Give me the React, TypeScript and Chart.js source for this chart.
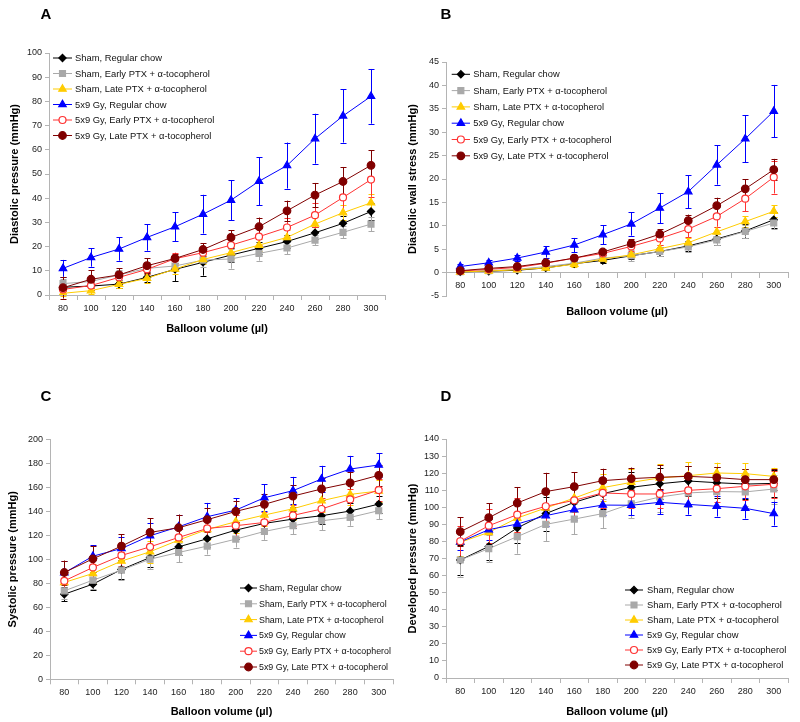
import React, { useEffect, useRef } from 'react';
import { Chart, registerables } from 'chart.js';
import { drawPoint } from 'chart.js/helpers';

Chart.register(...registerables);

// ---------- categories ----------
const balloonVolumes = ['80', '100', '120', '140', '160', '180', '200', '220', '240', '260', '280', '300'];

// ---------- series ----------
const seriesLabels = [
  'Sham, Regular chow',
  'Sham, Early PTX + α-tocopherol',
  'Sham, Late PTX + α-tocopherol',
  '5x9 Gy, Regular chow',
  '5x9 Gy, Early PTX + α-tocopherol',
  '5x9 Gy, Late PTX + α-tocopherol',
];

// ---------- Panel A: diastolic pressure ----------
const diaShamChow = [3.2, 3.7, 4.5, 7.3, 10.6, 13.5, 16.5, 19.3, 22.1, 25.7, 29.6, 34.5];
const diaShamEarly = [4.7, 5.6, 8.3, 11.0, 12.0, 14.4, 14.9, 17.2, 19.4, 22.7, 25.9, 29.3];
const diaShamLate = [0.7, 1.8, 4.4, 6.9, 10.7, 14.7, 17.5, 20.6, 23.8, 29.3, 34.0, 38.1];
const diaGyChow = [11.0, 15.5, 19.0, 23.8, 28.2, 33.4, 39.2, 47.0, 53.5, 64.6, 74.0, 82.1];
const diaGyEarly = [2.3, 3.9, 7.3, 10.6, 15.0, 17.5, 20.6, 24.1, 27.9, 33.0, 40.3, 47.7];
const diaGyLate = [3.0, 6.5, 8.3, 12.1, 15.1, 18.8, 23.8, 28.2, 34.8, 41.3, 46.9, 53.6];

const diaShamChowErr = [1.5, 1.5, 1.5, 2.0, 4.8, 5.5, 3.0, 2.5, 2.5, 2.5, 3.0, 3.5];
const diaShamEarlyErr = [2.0, 1.5, 2.0, 2.5, 2.0, 3.0, 4.0, 3.0, 2.5, 2.0, 2.5, 3.0];
const diaShamLateErr = [1.0, 1.5, 1.5, 2.0, 2.0, 2.0, 2.5, 2.5, 3.0, 3.0, 3.0, 3.5];
const diaGyChowErr = [3.5, 3.8, 4.8, 5.5, 6.0, 8.0, 8.3, 10.0, 9.5, 10.3, 11.0, 11.3];
const diaGyEarlyErr = [1.5, 2.0, 2.0, 2.0, 2.5, 2.5, 3.0, 3.5, 4.0, 5.0, 6.5, 7.0];
const diaGyLateErr = [4.5, 3.8, 2.8, 3.0, 2.0, 2.5, 3.0, 3.8, 4.2, 5.0, 6.0, 6.2];

// ---------- Panel B: diastolic wall stress ----------
const wallShamChow = [0.15, 0.3, 0.5, 1.0, 1.9, 2.6, 3.6, 4.5, 5.7, 7.2, 8.9, 11.3];
const wallShamEarly = [0.2, 0.4, 0.7, 1.3, 2.0, 3.1, 3.6, 4.5, 5.5, 7.0, 8.8, 10.6];
const wallShamLate = [0.15, 0.35, 0.6, 1.0, 1.8, 2.9, 3.8, 5.1, 6.4, 8.7, 10.9, 13.1];
const wallGyChow = [1.3, 2.1, 3.1, 4.4, 5.9, 8.1, 10.4, 13.8, 17.3, 23.0, 28.6, 34.5];
const wallGyEarly = [0.35, 0.7, 1.1, 2.0, 3.1, 4.1, 5.6, 7.3, 9.3, 12.0, 15.8, 20.4];
const wallGyLate = [0.4, 0.9, 1.3, 2.1, 3.1, 4.4, 6.2, 8.2, 11.1, 14.3, 17.9, 22.0];

const wallShamChowErr = [0.2, 0.2, 0.3, 0.4, 0.5, 0.6, 0.8, 1.0, 1.1, 1.3, 1.5, 1.7];
const wallShamEarlyErr = [0.2, 0.3, 0.3, 0.4, 0.6, 0.7, 1.2, 0.9, 1.1, 1.2, 1.3, 1.3];
const wallShamLateErr = [0.2, 0.2, 0.3, 0.4, 0.5, 0.6, 0.7, 0.8, 0.9, 1.0, 1.1, 1.3];
const wallGyChowErr = [0.5, 0.6, 0.7, 1.2, 1.5, 2.0, 2.5, 3.2, 3.5, 4.2, 5.0, 5.6];
const wallGyEarlyErr = [0.2, 0.3, 0.4, 0.5, 0.6, 0.8, 1.0, 1.3, 1.7, 2.2, 2.7, 3.5];
const wallGyLateErr = [0.2, 0.3, 0.4, 0.5, 0.6, 0.7, 0.9, 1.1, 1.3, 1.7, 2.1, 2.3];

// ---------- Panel C: systolic pressure ----------
const sysShamChow = [70.9, 79.3, 91.5, 101.5, 110.4, 117.1, 124.3, 129.9, 133.5, 136.3, 140.2, 146.0];
const sysShamEarly = [73.7, 82.6, 91.0, 100.1, 105.7, 111.0, 116.8, 123.2, 128.0, 132.1, 134.9, 140.5];
const sysShamLate = [80.7, 88.2, 98.5, 106.3, 116.0, 124.9, 131.3, 136.9, 142.1, 148.8, 154.1, 156.9];
const sysGyChow = [88.7, 102.6, 109.0, 119.6, 127.1, 135.5, 141.0, 151.3, 157.2, 166.9, 175.2, 178.6];
const sysGyEarly = [82.0, 93.2, 103.2, 110.4, 118.2, 125.7, 128.0, 130.7, 136.6, 141.9, 149.9, 157.7];
const sysGyLate = [89.0, 100.4, 111.0, 122.4, 126.3, 133.0, 139.9, 145.8, 152.7, 158.6, 163.6, 170.0];

const sysShamChowErr = [6, 5, 8, 8, 7, 7, 7, 7, 7, 7, 7, 7];
const sysShamEarlyErr = [7, 7, 8, 8, 8, 7, 7, 7, 7, 8, 7, 7];
const sysShamLateErr = [8, 8, 8, 9, 9, 9, 9, 9, 9, 9, 9, 9];
const sysGyChowErr = [9.5, 9.2, 10, 10.4, 10, 11.5, 10, 11.4, 11.5, 11, 11, 10];
const sysGyEarlyErr = [9, 10, 9, 9, 9, 9, 9, 9, 9, 9, 9, 9];
const sysGyLateErr = [10, 11, 10, 12, 11, 10, 9, 9, 9, 9, 9, 9];

// ---------- Panel D: developed pressure ----------
const devShamChow = [69.1, 77.1, 87.9, 96.3, 102.9, 108.0, 111.7, 113.8, 115.4, 114.4, 113.6, 114.0];
const devShamEarly = [69.1, 75.8, 82.8, 90.0, 93.1, 96.3, 102.1, 106.0, 108.4, 109.2, 109.0, 110.7];
const devShamLate = [79.5, 85.3, 93.7, 99.6, 105.4, 111.5, 114.6, 117.2, 118.5, 120.1, 119.7, 118.1];
const devGyChow = [79.7, 86.9, 90.2, 95.1, 98.6, 101.3, 101.2, 102.9, 101.7, 100.6, 99.4, 96.3];
const devGyEarly = [80.1, 89.2, 95.7, 100.6, 104.1, 108.4, 107.8, 107.8, 109.9, 110.9, 112.3, 113.5];
const devGyLate = [85.7, 93.9, 102.5, 109.2, 112.1, 115.6, 116.8, 117.6, 118.1, 117.4, 116.2, 116.2];

const devShamChowErr = [9, 8, 9, 10, 9, 9, 9, 9, 9, 9, 9, 8];
const devShamEarlyErr = [9.7, 8, 10, 10, 9, 8.5, 8.5, 8.5, 8.5, 8.5, 8.5, 8.5];
const devShamLateErr = [8, 8, 8, 8, 8, 8, 8, 8, 8, 6, 6, 5];
const devGyChowErr = [5, 6, 5, 6, 6, 6, 6, 7, 6, 6, 6, 7];
const devGyEarlyErr = [9, 10, 10, 9, 9, 9, 8, 8, 8, 8, 8, 8];
const devGyLateErr = [8.6, 8.5, 9.4, 11, 8.4, 7, 6.5, 7, 6, 6, 6, 6];

// ---------- styles ----------
const seriesColors = ['#000000', '#a9a9a9', '#ffcc00', '#0000ff', '#ff3333', '#800000'];
const seriesFills = ['#000000', '#a9a9a9', '#ffcc00', '#0000ff', '#ffffff', '#800000'];
const seriesMarkers = ['rectRot', 'rect', 'triangle', 'triangle', 'circle', 'circle'];
const seriesMarkerRadius = [3.6, 4.2, 4.3, 4.3, 3.5, 3.8];

const FONT = '"Liberation Sans", Arial, Helvetica, sans-serif';
const AXIS_COLOR = '#b4b4b4';
const X_TITLE = 'Balloon volume (µl)';

type Panel = {
  letter: string;
  left: number;
  top: number;
  yMin: number;
  yMax: number;
  yStep: number;
  yTitle: string;
  values: number[][];
  errors: number[][];
  pad: { top: number; right: number; bottom: number };
  yWidth: number;
  xHeight: number;
  yTitlePad: number;
  xAtZero: boolean;
  xTitleY: number;
  legend: { x0: number; x1: number; textX: number; y0: number; dy: number; size: number };
  letterPos: [number, number];
};

const panels: Panel[] = [
  {
    letter: 'A', left: 0, top: 0, yMin: 0, yMax: 100, yStep: 10,
    yTitle: 'Diastolic pressure (mmHg)',
    values: [diaShamChow, diaShamEarly, diaShamLate, diaGyChow, diaGyEarly, diaGyLate],
    errors: [diaShamChowErr, diaShamEarlyErr, diaShamLateErr, diaGyChowErr, diaGyEarlyErr, diaGyLateErr],
    pad: { top: 53, right: 15, bottom: 24 }, yWidth: 49, xHeight: 42, yTitlePad: 8.7,
    xAtZero: false, xTitleY: 0,
    legend: { x0: 53, x1: 72, textX: 75, y0: 58, dy: 15.5, size: 9.4 },
    letterPos: [46, 15],
  },
  {
    letter: 'B', left: 400, top: 0, yMin: -5, yMax: 45, yStep: 5,
    yTitle: 'Diastolic wall stress (mmHg)',
    values: [wallShamChow, wallShamEarly, wallShamLate, wallGyChow, wallGyEarly, wallGyLate],
    errors: [wallShamChowErr, wallShamEarlyErr, wallShamLateErr, wallGyChowErr, wallGyEarlyErr, wallGyLateErr],
    pad: { top: 62, right: 12, bottom: 65 }, yWidth: 46, xHeight: 30, yTitlePad: 6,
    xAtZero: true, xTitleY: 312,
    legend: { x0: 51.7, x1: 70, textX: 73.3, y0: 74.3, dy: 16.3, size: 9.3 },
    letterPos: [46, 15],
  },
  {
    letter: 'C', left: 0, top: 361, yMin: 0, yMax: 200, yStep: 20,
    yTitle: 'Systolic pressure (mmHg)',
    values: [sysShamChow, sysShamEarly, sysShamLate, sysGyChow, sysGyEarly, sysGyLate],
    errors: [sysShamChowErr, sysShamEarlyErr, sysShamLateErr, sysGyChowErr, sysGyEarlyErr, sysGyLateErr],
    pad: { top: 78.3, right: 7, bottom: 2 }, yWidth: 50, xHeight: 40.7, yTitlePad: 6.7,
    xAtZero: false, xTitleY: 0,
    legend: { x0: 240, x1: 257, textX: 259, y0: 227, dy: 15.8, size: 8.9 },
    letterPos: [46, 35.7],
  },
  {
    letter: 'D', left: 400, top: 361, yMin: 0, yMax: 140, yStep: 10,
    yTitle: 'Developed pressure (mmHg)',
    values: [devShamChow, devShamEarly, devShamLate, devGyChow, devGyEarly, devGyLate],
    errors: [devShamChowErr, devShamEarlyErr, devShamLateErr, devGyChowErr, devGyEarlyErr, devGyLateErr],
    pad: { top: 78, right: 12, bottom: 2 }, yWidth: 46, xHeight: 42, yTitlePad: 6,
    xAtZero: false, xTitleY: 0,
    legend: { x0: 225, x1: 243, textX: 247, y0: 229, dy: 15, size: 9.4 },
    letterPos: [46, 35.7],
  },
];

// ---------- plugins ----------
const errorBarPlugin = {
  id: 'errorBars',
  beforeDatasetsDraw(chart: any) {
    const { ctx } = chart;
    const ys = chart.scales.y;
    chart.data.datasets.forEach((ds: any, i: number) => {
      const meta = chart.getDatasetMeta(i);
      const errs: number[] = ds.errors || [];
      ctx.save();
      ctx.strokeStyle = ds.borderColor;
      ctx.lineWidth = 1;
      meta.data.forEach((pt: any, j: number) => {
        const v = ds.data[j];
        const e = errs[j];
        if (e == null) return;
        const x = Math.round(pt.x) + 0.5;
        const yt = ys.getPixelForValue(v + e);
        const yb = ys.getPixelForValue(v - e);
        ctx.beginPath();
        ctx.moveTo(x, yt);
        ctx.lineTo(x, yb);
        ctx.moveTo(x - 3, Math.round(yt) + 0.5);
        ctx.lineTo(x + 3, Math.round(yt) + 0.5);
        ctx.moveTo(x - 3, Math.round(yb) + 0.5);
        ctx.lineTo(x + 3, Math.round(yb) + 0.5);
        ctx.stroke();
      });
      ctx.restore();
    });
  },
};

const decorPlugin = {
  id: 'decor',
  afterDraw(chart: any, _args: any, opts: any) {
    const { ctx } = chart;
    const lg = opts.legend;
    ctx.save();
    // legend
    chart.data.datasets.forEach((ds: any, i: number) => {
      const y = lg.y0 + lg.dy * i;
      ctx.strokeStyle = ds.borderColor;
      ctx.lineWidth = 1;
      ctx.beginPath();
      ctx.moveTo(lg.x0, y);
      ctx.lineTo(lg.x1, y);
      ctx.stroke();
      ctx.fillStyle = ds.pointBackgroundColor;
      ctx.strokeStyle = ds.pointBorderColor;
      ctx.lineWidth = ds.pointBorderWidth;
      drawPoint(ctx, { pointStyle: ds.pointStyle, radius: ds.pointRadius, rotation: 0, borderWidth: ds.pointBorderWidth }, (lg.x0 + lg.x1) / 2, y);
      ctx.fillStyle = '#111';
      ctx.font = `${lg.size}px ${FONT}`;
      ctx.textAlign = 'left';
      ctx.textBaseline = 'middle';
      ctx.fillText(ds.label, lg.textX, y + 0.5);
    });
    // panel letter
    ctx.fillStyle = '#000';
    ctx.font = `bold 15px ${FONT}`;
    ctx.textAlign = 'center';
    ctx.textBaseline = 'middle';
    ctx.fillText(opts.letter, opts.letterPos[0], opts.letterPos[1]);
    // x title for axis crossing at zero
    if (opts.xTitleY) {
      const ca = chart.chartArea;
      ctx.font = `bold 11px ${FONT}`;
      ctx.fillText(X_TITLE, (ca.left + ca.right) / 2, opts.xTitleY);
    }
    ctx.restore();
  },
};

function buildConfig(p: Panel): any {
  const datasets = p.values.map((vals, i) => ({
    label: seriesLabels[i],
    data: vals,
    errors: p.errors[i],
    borderColor: seriesColors[i],
    backgroundColor: seriesFills[i],
    borderWidth: 1,
    pointStyle: seriesMarkers[i],
    pointRadius: seriesMarkerRadius[i],
    pointBackgroundColor: seriesFills[i],
    pointBorderColor: seriesColors[i],
    pointBorderWidth: 1.2,
    tension: 0,
    fill: false,
    order: 6 - i,
  }));
  return {
    type: 'line',
    data: { labels: balloonVolumes, datasets },
    plugins: [errorBarPlugin, decorPlugin],
    options: {
      responsive: false,
      animation: false,
      events: [],
      layout: { padding: { left: 0, top: p.pad.top, right: p.pad.right, bottom: p.pad.bottom } },
      plugins: {
        legend: { display: false },
        tooltip: { enabled: false },
        decor: { legend: p.legend, letter: p.letter, letterPos: p.letterPos, xTitleY: p.xTitleY },
      },
      scales: {
        x: {
          type: 'category',
          offset: true,
          position: p.xAtZero ? { y: 0 } : 'bottom',
          grid: { offset: true, drawOnChartArea: false, drawTicks: true, tickLength: 5, color: AXIS_COLOR },
          border: { color: AXIS_COLOR },
          ticks: { font: { family: FONT, size: 9 }, color: '#222', padding: 3, maxRotation: 0, autoSkip: false },
          title: {
            display: !p.xAtZero,
            text: X_TITLE,
            color: '#000',
            font: { family: FONT, size: 11, weight: 'bold' },
            padding: { top: 0, bottom: 1 },
          },
          afterFit: (s: any) => { s.height = p.xHeight; },
        },
        y: {
          min: p.yMin,
          max: p.yMax,
          grid: { drawOnChartArea: false, drawTicks: true, tickLength: 4, color: AXIS_COLOR },
          border: { color: AXIS_COLOR },
          ticks: { stepSize: p.yStep, font: { family: FONT, size: 9 }, color: '#222', padding: 3 },
          title: {
            display: true,
            text: p.yTitle,
            color: '#000',
            font: { family: FONT, size: 11, weight: 'bold' },
            padding: { top: p.yTitlePad, bottom: 0 },
          },
          afterFit: (s: any) => { s.width = p.yWidth; },
        },
      },
    },
  };
}

function PanelChart({ p }: { p: Panel }) {
  const ref = useRef<HTMLCanvasElement | null>(null);
  useEffect(() => {
    if (!ref.current) return;
    const chart = new Chart(ref.current, buildConfig(p));
    return () => chart.destroy();
  }, [p]);
  return (
    <canvas
      ref={ref}
      width={400}
      height={361}
      style={{ position: 'absolute', left: p.left, top: p.top, width: 400, height: 361 }}
    />
  );
}

export default function App() {
  return (
    <div style={{ position: 'absolute', left: 0, top: 0, width: 800, height: 722, background: '#ffffff', overflow: 'hidden' }}>
      {panels.map((p) => (
        <PanelChart key={p.letter} p={p} />
      ))}
    </div>
  );
}
